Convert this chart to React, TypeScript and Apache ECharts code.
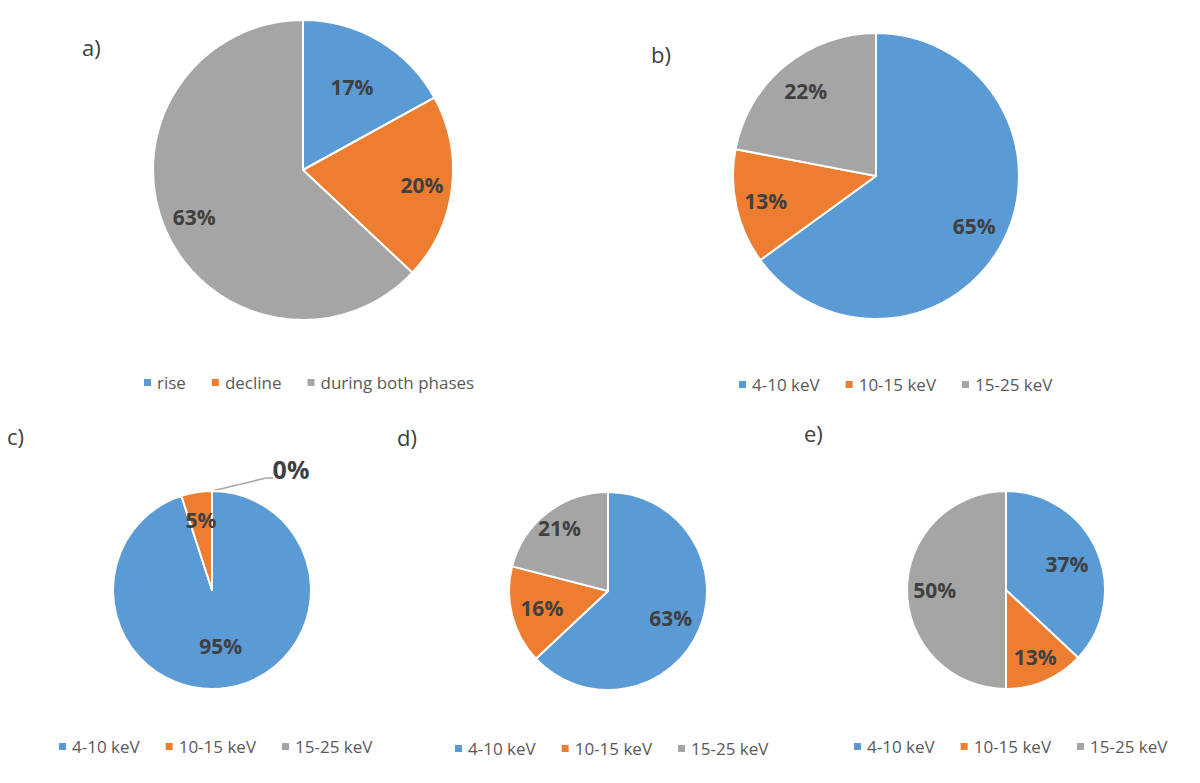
import React, { useEffect, useRef } from 'react';
import * as echarts from 'echarts';

// slice names
const phaseNames = ['rise', 'decline', 'during both phases'];
const energyNames = ['4-10 keV', '10-15 keV', '15-25 keV'];

// percentages per panel
const valuesA = [17, 20, 63];
const valuesB = [65, 13, 22];
const valuesC = [95, 5, 0];
const valuesD = [63, 16, 21];
const valuesE = [37, 13, 50];

const panelLetters = ['a)', 'b)', 'c)', 'd)', 'e)'];

const COLORS = ['#5B9BD5', '#ED7D31', '#A5A5A5'];
const LABEL_COLOR = '#404040';
const FONT = "'Open Sans', 'Noto Sans', sans-serif";

// layout of each panel (pixels)
const panels = [
  { names: phaseNames, values: valuesA, cx: 303, cy: 170, r: 150, labelR: [0.64, 0.8, 0.79], legendLeft: 137, legendTop: 369, letterX: 82, letterY: 51 },
  { names: energyNames, values: valuesB, cx: 876, cy: 176, r: 143, labelR: [0.77, 0.79, 0.77], legendLeft: 732, legendTop: 371, letterX: 651, letterY: 58 },
  { names: energyNames, values: valuesC, cx: 212, cy: 590, r: 99, labelR: [0.57, 0.72, 0], legendLeft: 52, legendTop: 733, letterX: 7, letterY: 440 },
  { names: energyNames, values: valuesD, cx: 608, cy: 591, r: 99, labelR: [0.69, 0.69, 0.8], legendLeft: 448, legendTop: 735, letterX: 397, letterY: 441 },
  { names: energyNames, values: valuesE, cx: 1006, cy: 590, r: 99, labelR: [0.67, 0.74, 0.72], legendLeft: 847, legendTop: 733, letterX: 804, letterY: 437 },
];

// callout for the zero slice in panel c
const CALLOUT = { bendDx: 54, bendDy: -13, endDx: 61, textDx: 79, textDy: -121 };

function labelPoint(p: typeof panels[number], idx: number) {
  const total = p.values.reduce((s, v) => s + v, 0);
  let before = 0;
  for (let i = 0; i < idx; i++) before += p.values[i];
  const mid = ((before + p.values[idx] / 2) / total) * Math.PI * 2;
  const rr = p.r * p.labelR[idx];
  return { x: p.cx + rr * Math.sin(mid), y: p.cy - rr * Math.cos(mid) };
}

const App: React.FC = () => {
  const chartRef = useRef<HTMLDivElement>(null);

  useEffect(() => {
    document.body.style.margin = '0';
    if (!chartRef.current) return;
    const chart = echarts.init(chartRef.current, undefined, { renderer: 'svg' });

    const series = panels.map((p, si) => ({
      type: 'pie',
      silent: true,
      center: [p.cx, p.cy],
      radius: p.r,
      startAngle: 90,
      clockwise: true,
      avoidLabelOverlap: false,
      itemStyle: { borderColor: '#ffffff', borderWidth: 2 },
      label: {
        show: true,
        position: 'inside',
        formatter: '{c}%',
        color: LABEL_COLOR,
        fontSize: 21,
        fontWeight: 'bold',
        fontFamily: FONT,
      },
      labelLine: { show: false },
      labelLayout: (params: any) => {
        if (si === 2 && params.dataIndex === 2) {
          const top = { x: p.cx, y: p.cy - p.r };
          return {
            x: p.cx + CALLOUT.textDx,
            y: p.cy + CALLOUT.textDy,
            align: 'center',
            verticalAlign: 'middle',
            labelLinePoints: [
              [top.x, top.y],
              [top.x + CALLOUT.bendDx, top.y + CALLOUT.bendDy],
              [top.x + CALLOUT.endDx, top.y + CALLOUT.bendDy],
            ],
          };
        }
        const pt = labelPoint(p, params.dataIndex);
        return { x: pt.x, y: pt.y, align: 'center', verticalAlign: 'middle' };
      },
      data: p.values.map((v, i) => {
        const item: any = { name: p.names[i], value: v, itemStyle: { color: COLORS[i] } };
        if (si === 2 && i === 2) {
          item.label = { position: 'outside', fontSize: 25 };
          item.labelLine = { show: true, length: 10, length2: 10, lineStyle: { color: '#A5A5A5', width: 1.5 } };
        }
        return item;
      }),
    }));

    const legend = panels.map((p) => ({
      left: p.legendLeft,
      top: p.legendTop,
      orient: 'horizontal',
      data: p.names,
      icon: 'rect',
      itemWidth: 9,
      itemHeight: 9,
      itemGap: 24,
      selectedMode: false,
      textStyle: { color: '#595959', fontSize: 17, fontFamily: FONT },
    }));

    const graphic = panels.map((p, i) => ({
      type: 'text',
      left: p.letterX,
      top: p.letterY - 15,
      style: { text: panelLetters[i], fill: LABEL_COLOR, font: `22px ${FONT}` },
    }));

    chart.setOption({
      animation: false,
      backgroundColor: '#ffffff',
      color: COLORS,
      legend,
      graphic,
      series,
    });

    return () => {
      chart.dispose();
    };
  }, []);

  return <div ref={chartRef} style={{ width: 1200, height: 783 }} />;
};

export default App;
